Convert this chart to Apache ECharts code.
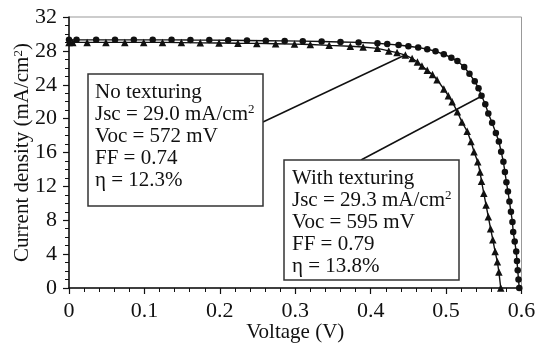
<!DOCTYPE html>
<html><head><meta charset="utf-8">
<script src="https://cdn.jsdelivr.net/npm/echarts@6/dist/echarts.min.js"></script>
<style>html,body{margin:0;padding:0;background:#fff}#c{width:536px;height:346px}</style>
</head><body><div id="c"></div>
<script>
// With texturing (circles)
const texV = [0, 0.01, 0.036, 0.061, 0.086, 0.111, 0.136, 0.161, 0.186, 0.211, 0.236, 0.261, 0.286, 0.31, 0.335, 0.36, 0.384, 0.409, 0.422, 0.437, 0.45, 0.463, 0.475, 0.486, 0.497, 0.507, 0.515, 0.524, 0.531, 0.538, 0.543, 0.547, 0.552, 0.556, 0.561, 0.566, 0.57, 0.573, 0.576, 0.578, 0.58, 0.582, 0.584, 0.586, 0.588, 0.589, 0.591, 0.593, 0.594, 0.595, 0.596, 0.597];
const texJ = [29.3, 29.3, 29.3, 29.3, 29.3, 29.3, 29.3, 29.28, 29.27, 29.25, 29.23, 29.2, 29.18, 29.15, 29.1, 29.05, 29.0, 28.9, 28.8, 28.7, 28.55, 28.4, 28.2, 27.95, 27.6, 27.2, 26.8, 26.1, 25.3, 24.4, 23.6, 22.7, 21.7, 20.6, 19.5, 18.3, 17.3, 16.1, 14.9, 13.7, 12.5, 11.4, 10.2, 9.0, 7.8, 6.6, 5.5, 4.3, 3.2, 2.1, 1.0, 0];
// No texturing (triangles)
const noV = [0, 0.005, 0.024, 0.049, 0.074, 0.099, 0.124, 0.149, 0.174, 0.199, 0.224, 0.249, 0.274, 0.299, 0.32, 0.345, 0.373, 0.39, 0.409, 0.424, 0.435, 0.446, 0.455, 0.462, 0.468, 0.475, 0.482, 0.488, 0.497, 0.503, 0.508, 0.515, 0.521, 0.528, 0.533, 0.537, 0.542, 0.545, 0.547, 0.55, 0.553, 0.556, 0.559, 0.562, 0.565, 0.568, 0.57, 0.5725];
const noJ = [29.0, 29.0, 29.0, 29.0, 29.0, 29.0, 29.0, 28.98, 28.95, 28.93, 28.9, 28.88, 28.85, 28.8, 28.75, 28.65, 28.55, 28.45, 28.3, 28.0, 27.8, 27.5, 27.1, 26.7, 26.2, 25.7, 25.2, 24.6, 23.5, 22.7, 22.0, 20.8, 19.6, 18.5, 17.3, 16.1, 14.9, 13.7, 12.6, 11.2, 9.8, 8.4, 7.0, 5.7, 4.3, 3.1, 1.9, 0];
const xTickLabels = ['0', '0.1', '0.2', '0.3', '0.4', '0.5', '0.6'];
const yTickLabels = ['0', '4', '8', '12', '16', '20', '24', '28', '32'];
const box1Lines = ['No texturing', 'Jsc = 29.0 mA/cm', 'Voc = 572 mV', 'FF = 0.74', 'η = 12.3%'];
const box2Lines = ['With texturing', 'Jsc = 29.3 mA/cm', 'Voc = 595 mV', 'FF = 0.79', 'η = 13.8%'];

const FONT = '"Liberation Serif", "Times New Roman", serif';
const pairs = (xs, ys) => xs.map((x, i) => [x, ys[i]]);
const chart = echarts.init(document.getElementById('c'), null, {renderer: 'canvas'});

function boxText(lines) {
  return lines.map((l, i) => i === 1 ? '{t|' + l + '}{s|2}' : '{t|' + l + '}').join('\n');
}
const rich = {
  t: {fontFamily: FONT, fontSize: 21, lineHeight: 22, fill: '#111', color: '#111'},
  s: {fontFamily: FONT, fontSize: 13, lineHeight: 22, verticalAlign: 'top', padding: [0, 0, 8, 0], fill: '#111', color: '#111'}
};

chart.setOption({
  animation: false,
  backgroundColor: '#fff',
  grid: {left: 69, right: 14.5, top: 17, bottom: 58, show: true, borderColor: '#999', borderWidth: 1,
         containLabel: false, outerBoundsMode: 'none'},
  xAxis: {
    type: 'value', min: 0, max: 0.6, interval: 0.1,
    name: 'Voltage (V)', nameLocation: 'middle', nameGap: 34, nameMoveOverlap: false,
    nameTextStyle: {fontFamily: FONT, fontSize: 21, color: '#111'},
    axisLine: {show: true, onZero: false, lineStyle: {color: '#111', width: 1.5}},
    axisTick: {show: true, inside: false, length: 6, lineStyle: {color: '#111', width: 1.2}},
    minorTick: {show: true, splitNumber: 5, length: 4, lineStyle: {color: '#111', width: 1}},
    splitLine: {show: false},
    axisLabel: {fontFamily: FONT, fontSize: 22, color: '#111', margin: 12,
      formatter: v => xTickLabels[Math.round(v * 10)]}
  },
  yAxis: {
    type: 'value', min: 0, max: 32, interval: 4,
    name: '{a|Current density (mA/cm}{s|2}{a|)}', nameLocation: 'middle', nameGap: 36, nameRotate: 90,
    nameMoveOverlap: false,
    nameTextStyle: {rich: {
      a: {fontFamily: FONT, fontSize: 21, color: '#111'},
      s: {fontFamily: FONT, fontSize: 13, color: '#111', verticalAlign: 'top', padding: [0, 0, 8, 0]}
    }},
    axisLine: {show: true, onZero: false, lineStyle: {color: '#111', width: 1.5}},
    axisTick: {show: true, inside: false, length: 6, lineStyle: {color: '#111', width: 1.2}},
    minorTick: {show: true, splitNumber: 4, length: 4, lineStyle: {color: '#111', width: 1}},
    splitLine: {show: false},
    axisLabel: {fontFamily: FONT, fontSize: 22, color: '#111', margin: 12,
      formatter: v => yTickLabels[Math.round(v / 4)]}
  },
  series: [
    {name: 'With texturing', type: 'line', data: pairs(texV, texJ), symbol: 'circle', symbolSize: 6.5,
     lineStyle: {color: '#111', width: 1.4}, itemStyle: {color: '#111'}, z: 3},
    {name: 'No texturing', type: 'line', data: pairs(noV, noJ), symbol: 'triangle', symbolSize: 7.5,
     lineStyle: {color: '#111', width: 1.4}, itemStyle: {color: '#111'}, z: 3}
  ],
  graphic: [
    {type: 'line', shape: {x1: 263, y1: 122, x2: 405, y2: 55}, style: {stroke: '#111', lineWidth: 1.5}, z: 10},
    {type: 'line', shape: {x1: 361, y1: 160, x2: 480, y2: 97}, style: {stroke: '#111', lineWidth: 1.5}, z: 10},
    {type: 'rect', shape: {x: 88, y: 74, width: 175, height: 132}, style: {fill: '#fff', stroke: '#333', lineWidth: 1.5}, z: 11},
    {type: 'rect', shape: {x: 284, y: 160, width: 175, height: 120}, style: {fill: '#fff', stroke: '#333', lineWidth: 1.5}, z: 11},
    {type: 'text', x: 95, y: 81, z: 12, style: {text: boxText(box1Lines), rich: rich, font: '21px ' + FONT, fill: '#111'}},
    {type: 'text', x: 292, y: 167, z: 12, style: {text: boxText(box2Lines), rich: rich, font: '21px ' + FONT, fill: '#111'}}
  ]
});
</script></body></html>
